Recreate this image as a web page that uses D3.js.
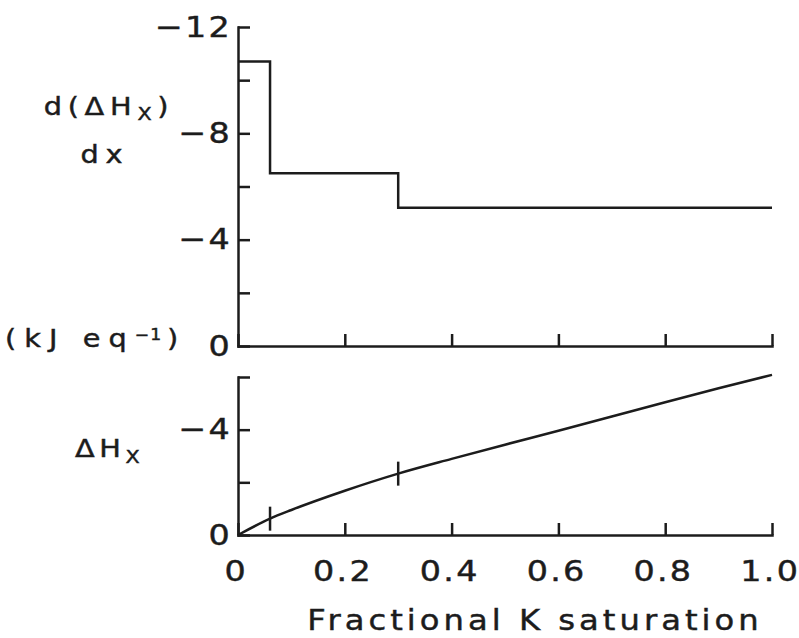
<!DOCTYPE html>
<html>
<head>
<meta charset="utf-8">
<script src="https://cdn.jsdelivr.net/npm/d3@7"></script>
<style>
  body { margin: 0; background: #fff; }
  svg text { font-family: "DejaVu Sans", "Liberation Sans", sans-serif; fill: #1c1c1c; stroke: #1c1c1c; stroke-width: 0.45px; }
</style>
</head>
<body>
<svg id="chart" width="799" height="638"></svg>
<script>
// d(ΔHx)/dx step levels (kJ eq-1), left edge of each step
const stepX = [0, 0.06, 0.3, 1.0];
const stepY = [-10.7, -6.5, -5.2, -5.2];

// ΔHx curve
const curveX = [0, 0.06, 0.1, 0.2, 0.3, 0.4, 0.5, 0.6, 0.7, 0.8, 0.9, 1.0];
const curveY = [0, -0.62, -0.95, -1.68, -2.33, -2.89, -3.43, -3.96, -4.5, -5.04, -5.57, -6.08];

// small marks on the curve where the steps change
const markX = [0.06, 0.3];

const xTicks = [0, 0.2, 0.4, 0.6, 0.8, 1.0];
const topTicks = [0, -2, -4, -6, -8, -10, -12];
const topLabels = [0, -4, -8, -12];
const botTicks = [0, -2, -4, -6];
const botLabels = [0, -4];

const svg = d3.select("#chart");
const ink = "#1c1c1c";
const SX = 1.15; // the printed lettering is wide

const x = d3.scaleLinear().domain([0, 1]).range([238, 772]);
const yTop = d3.scaleLinear().domain([0, -12]).range([346, 27]);
const yBot = d3.scaleLinear().domain([0, -6]).range([535, 377]);

const fmtY = v => (v === 0 ? "0" : "\u2212" + Math.abs(v));

// widen text horizontally around its own x anchor
function stretch(sel) {
    sel.each(function () {
        const t = d3.select(this);
        const x0 = +t.attr("x") || 0;
        t.attr("transform", `translate(${x0 * (1 - SX)},0) scale(${SX},1)`);
    });
}

function styleAxis(g) {
    g.select(".domain").attr("stroke", ink).attr("stroke-width", 2.5).attr("stroke-linecap", "square");
    g.selectAll(".tick line").attr("stroke", ink).attr("stroke-width", 2.5);
    g.selectAll(".tick text")
        .attr("fill", ink)
        .style("font-size", "29px")
        .style("letter-spacing", "2px")
        .call(stretch);
}

// top panel axes
svg.append("g")
    .attr("transform", `translate(${x(0)},0)`)
    .call(d3.axisLeft(yTop).tickValues(topTicks).tickSizeInner(-12).tickSizeOuter(0).tickPadding(6)
        .tickFormat(v => (topLabels.includes(v) ? fmtY(v) : "")))
    .call(styleAxis);

svg.append("g")
    .attr("transform", `translate(0,${yTop(0)})`)
    .call(d3.axisBottom(x).tickValues(xTicks).tickSizeInner(-12).tickSizeOuter(0).tickFormat(""))
    .call(styleAxis);

// bottom panel axes
svg.append("g")
    .attr("transform", `translate(${x(0)},0)`)
    .call(d3.axisLeft(yBot).tickValues(botTicks).tickSizeInner(-12).tickSizeOuter(0).tickPadding(6)
        .tickFormat(v => (botLabels.includes(v) ? fmtY(v) : "")))
    .call(styleAxis);

svg.append("g")
    .attr("transform", `translate(0,${yBot(0)})`)
    .call(d3.axisBottom(x).tickValues(xTicks).tickSizeInner(-12).tickSizeOuter(0).tickPadding(25)
        .tickFormat(v => (v === 0 ? "0" : v.toFixed(1))))
    .call(styleAxis)
    .selectAll(".tick text").attr("dx", "-2px");

// step line
const steps = stepX.map((d, i) => [d, stepY[i]]);
svg.append("path")
    .datum(steps)
    .attr("fill", "none")
    .attr("stroke", ink)
    .attr("stroke-width", 2.5)
    .attr("d", d3.line().x(d => x(d[0])).y(d => yTop(d[1])).curve(d3.curveStepAfter));

// ΔHx curve
const pts = curveX.map((d, i) => [d, curveY[i]]);
svg.append("path")
    .datum(pts)
    .attr("fill", "none")
    .attr("stroke", ink)
    .attr("stroke-width", 2.5)
    .attr("d", d3.line().x(d => x(d[0])).y(d => yBot(d[1])).curve(d3.curveMonotoneX));

svg.selectAll(".mark")
    .data(markX)
    .enter()
    .append("line")
    .attr("class", "mark")
    .attr("stroke", ink)
    .attr("stroke-width", 2.5)
    .attr("x1", d => x(d))
    .attr("x2", d => x(d))
    .attr("y1", d => yBot(curveY[curveX.indexOf(d)]) - 12)
    .attr("y2", d => yBot(curveY[curveX.indexOf(d)]) + 12);

// axis titles
const t1 = svg.append("text").attr("x", 109).attr("y", 115).attr("text-anchor", "middle")
    .style("font-size", "25px").style("letter-spacing", "5px");
t1.append("tspan").text("d(\u0394H");
t1.append("tspan").attr("dy", 5).style("font-size", "18px").text("X");
t1.append("tspan").attr("dy", -5).text(")");

const t1b = svg.append("text").attr("x", 105).attr("y", 163).attr("text-anchor", "middle")
    .style("font-size", "25px").style("letter-spacing", "6px").text("dx");

const t2 = svg.append("text").attr("x", 5).attr("y", 347)
    .style("font-size", "25px").style("letter-spacing", "7px");
t2.append("tspan").text("(kJ eq");
t2.append("tspan").attr("dy", -7).style("font-size", "15px").style("letter-spacing", "1px").text("\u22121");
t2.append("tspan").attr("dy", 7).attr("dx", 4).text(")");

const t3 = svg.append("text").attr("x", 75).attr("y", 457)
    .style("font-size", "25px").style("letter-spacing", "4px");
t3.append("tspan").text("\u0394H");
t3.append("tspan").attr("dy", 6).style("font-size", "18px").text("X");

const t4 = svg.append("text").attr("x", 535).attr("y", 630).attr("text-anchor", "middle")
    .style("font-size", "28px").style("letter-spacing", "3.5px")
    .text("Fractional K saturation");

[t1, t1b, t2, t3, t4].forEach(stretch);
</script>
</body>
</html>
